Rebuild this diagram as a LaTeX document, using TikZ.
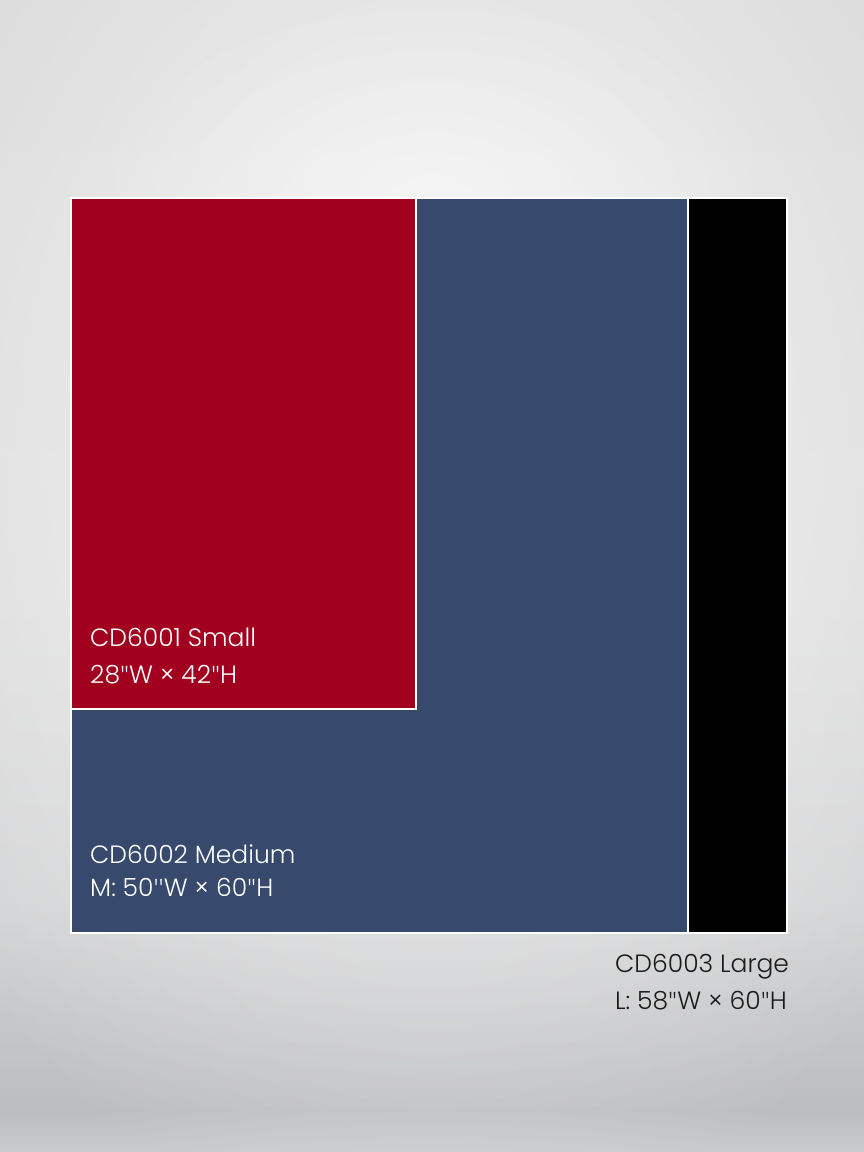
\documentclass[tikz,border=0pt]{standalone}
\usepackage{fontspec}
\setmainfont{Poppins}[UprightFont=* Light]
\newfontfamily\qfont{Fira Sans}[UprightFont=* Light]
\usetikzlibrary{fadings}
\tikzfading[name=glow, inner color=transparent!0, outer color=transparent!100]
\newcommand{\dq}{{\qfont\char"22}}
\newcommand{\sq}{{\qfont\char"27}}
\definecolor{c0}{HTML}{DADADA}
\definecolor{c1}{HTML}{DCDCDC}
\definecolor{c2}{HTML}{D3D4D5}
\definecolor{c3}{HTML}{BCBDBF}
\definecolor{c4}{HTML}{C9CACC}
\pgfdeclareverticalshading{bgv}{100bp}{color(0bp)=(c4); color(25bp)=(c4); color(26.8bp)=(c3); color(36bp)=(c2); color(49bp)=(c1); color(75bp)=(c0); color(100bp)=(c0)}
\definecolor{cdred}{HTML}{A1001E}
\definecolor{cdblue}{HTML}{374A6D}
\definecolor{txtdark}{HTML}{1A1A1A}
\tikzset{
  panel/.style={draw=white, line width=1.4pt},
  lbl/.style={anchor=base west, inner sep=0pt, font=\fontsize{25}{30}\selectfont},
}
\begin{document}
\begin{tikzpicture}[x=1pt,y=-1pt]
\useasboundingbox (0,0) rectangle (864,1152);
% background
\shade[shading=bgv] (0,0) rectangle (864,1152);
\begin{scope}
\clip (0,0) rectangle (864,1152);
\fill[white, opacity=0.75, path fading=glow] (432,450) ellipse (620 and 800);
\fill[white, opacity=0.4, path fading=glow] (432,190) ellipse (350 and 200);
\end{scope}
% panels
\path[panel, fill=black] (71,198) rectangle (787,933);
\path[panel, fill=cdblue] (71,198) rectangle (688,933);
\path[panel, fill=cdred] (71,198) rectangle (416,709);
% labels
\node[lbl, text=white] (s1) at (90,646) {CD6001 Small};
\node[lbl, text=white] (s2) at (90,683) {28\dq W × 42\dq H};
\node[lbl, text=white] (m1) at (90,863) {CD6002 Medium};
\node[lbl, text=white] (m2) at (90,896) {M: 50\sq\sq W × 60\dq H};
\node[lbl, text=txtdark] (l1) at (615,972) {CD6003 Large};
\node[lbl, text=txtdark] (l2) at (615,1009) {L: 58\dq W × 60\dq H};
\end{tikzpicture}
\end{document}
